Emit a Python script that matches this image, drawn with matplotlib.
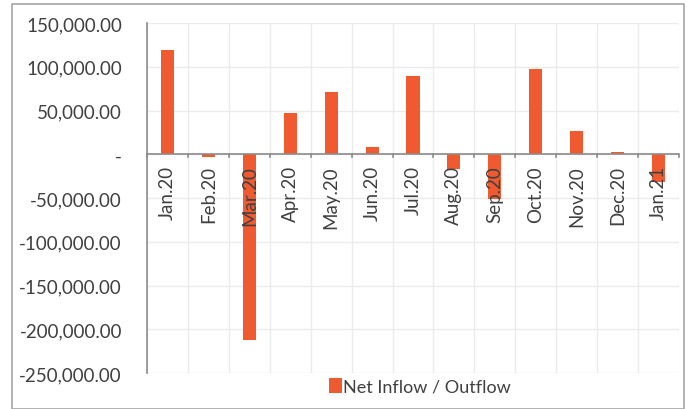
import numpy as np
import matplotlib
matplotlib.use("Agg")
import matplotlib.pyplot as plt
from matplotlib.patches import Rectangle

months = ['Jan.20', 'Feb.20', 'Mar.20', 'Apr.20', 'May.20', 'Jun.20', 'Jul.20',
          'Aug.20', 'Sep.20', 'Oct.20', 'Nov.20', 'Dec.20', 'Jan.21']
net_flow = [119000, -3000, -212000, 47000, 71000, 8000, 90000,
            -17000, -51000, 98000, 27000, 3000, -32000]
y_ticks = [150000, 100000, 50000, 0, -50000, -100000, -150000, -200000, -250000]

plt.rcParams['font.family'] = ['Lato', 'DejaVu Sans']

fig = plt.figure(figsize=(6.94, 4.10), dpi=100)
ax = fig.add_axes([147 / 694, 1 - 374 / 410, 532 / 694, 350 / 410])

x = np.arange(len(months))
ax.bar(x, net_flow, width=0.32, color='#F05A30', zorder=3, label='Net Inflow / Outflow')

ax.set_xlim(-0.5, len(months) - 0.5)
ax.set_ylim(-250000, 150000)

def fmt(v):
    return '-' if v == 0 else '{:,.2f}'.format(v)

ax.set_yticks(y_ticks)
ax.set_yticklabels([fmt(v) for v in y_ticks], fontsize=13.5, color='#404040')
ax.tick_params(axis='y', length=0, pad=18)

# vertical gridlines at category boundaries
for b in np.arange(-0.5, len(months), 1.0):
    ax.axvline(b, color='#EBEBEB', lw=1, zorder=1)
ax.yaxis.grid(True, color='#EBEBEB', lw=1, zorder=1)

# zero axis line with ticks
ax.axhline(0, color='#8C8C8C', lw=1.2, zorder=4)
for b in np.arange(-0.5, len(months), 1.0):
    ax.plot([b, b], [0, -2800], color='#8C8C8C', lw=1.2, zorder=4, clip_on=False)

ax.set_xticks([])
for i, m in enumerate(months):
    ax.text(i, -12500, m, rotation=90, ha='center', va='top', fontsize=13.5,
            color='#404040', zorder=5)

for s in ['top', 'right', 'bottom']:
    ax.spines[s].set_visible(False)
ax.spines['left'].set_color('#8C8C8C')
ax.spines['left'].set_linewidth(1.2)

fig.legend(loc='lower center', bbox_to_anchor=(420 / 694, -0.005), frameon=False,
           fontsize=13, handlelength=0.7, handleheight=0.9, handletextpad=0.1,
           labelcolor='#404040')

fig.patches.append(Rectangle((12 / 694, 0), 672 / 694, 1 - 5 / 410,
                             transform=fig.transFigure, fill=False,
                             edgecolor='#A6A6A6', lw=1.2))

fig.savefig('out.png', dpi=100)
